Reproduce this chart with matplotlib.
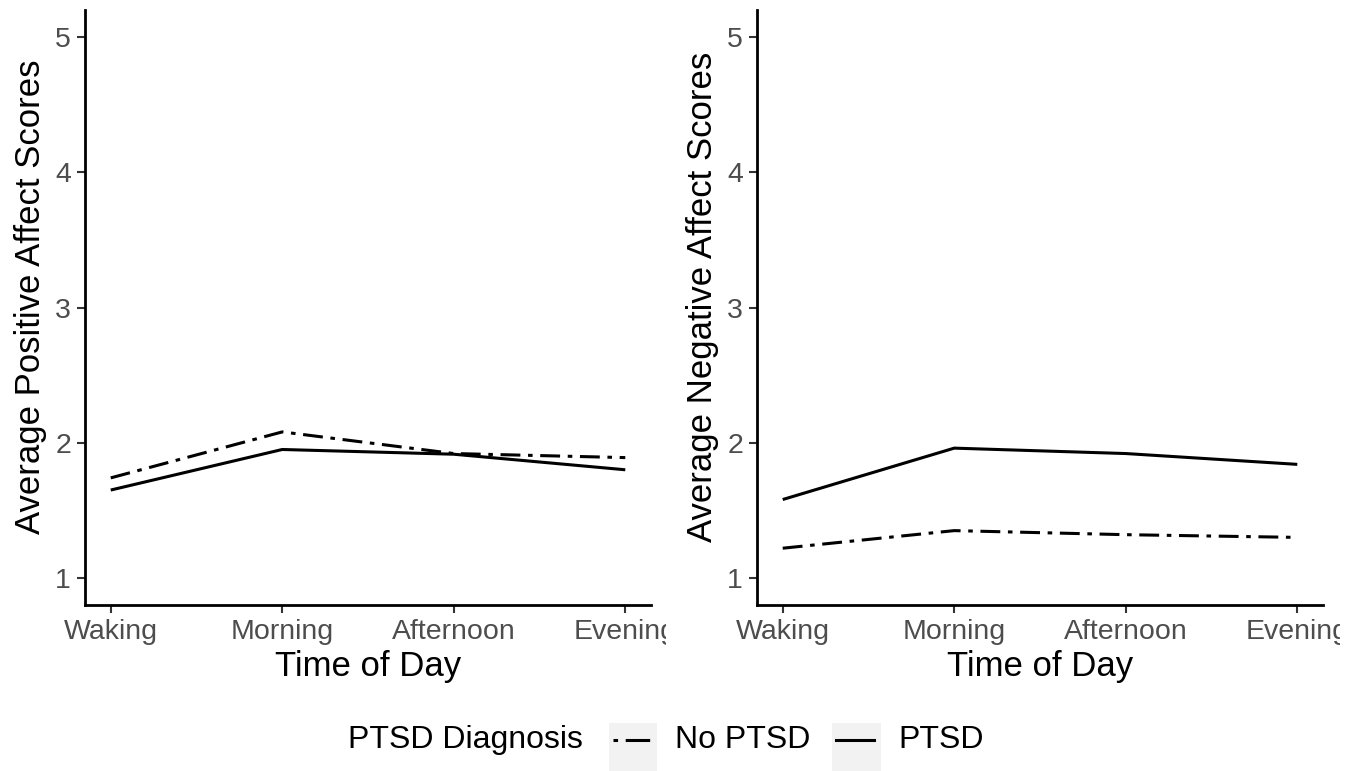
import matplotlib
matplotlib.use('Agg')
import matplotlib.pyplot as plt
from matplotlib.lines import Line2D
from matplotlib.patches import Rectangle
from matplotlib.transforms import Bbox, TransformedBbox

plt.rcParams['font.family'] = ['Liberation Sans', 'DejaVu Sans']

times = ['Waking', 'Morning', 'Afternoon', 'Evening']
groups = ['No PTSD', 'PTSD']

# positive affect
pos_no_ptsd = [1.74, 2.08, 1.92, 1.89]
pos_ptsd = [1.65, 1.95, 1.915, 1.80]

# negative affect
neg_no_ptsd = [1.22, 1.35, 1.32, 1.30]
neg_ptsd = [1.58, 1.96, 1.92, 1.84]

yticks = [1, 2, 3, 4, 5]
dotdash = (6.5, 2.5, 1.5, 2.5)
dotdash_key = (1.5, 2.5, 8.0, 2.5)

W, H = 1360, 771
fig = plt.figure(figsize=(W / 100, H / 100), dpi=100)


def px_box(x0, y0, x1, y1):
    # pixel box (top-left origin) -> figure fraction rect
    return [x0 / W, 1 - y1 / H, (x1 - x0) / W, (y1 - y0) / H]


def style_panel(ax, ylabel, clip_right):
    ax.set_xlim(-0.15, 3.15)
    ax.set_ylim(0.8, 5.2)
    ax.set_yticks(yticks)
    ax.set_xticks(range(len(times)))
    ax.set_xticklabels(times)
    for s in ['top', 'right']:
        ax.spines[s].set_visible(False)
    for s in ['left', 'bottom']:
        ax.spines[s].set_linewidth(2.0)
        ax.spines[s].set_color('black')
    ax.tick_params(length=6, width=1.5, color='#333333', labelsize=20.5,
                   labelcolor='#4D4D4D', pad=4)
    ax.set_xlabel('Time of Day', fontsize=25, labelpad=4)
    ax.set_ylabel(ylabel, fontsize=25, labelpad=6)
    ax.yaxis.set_label_coords(-0.068, 0.518)
    # cut the last tick label the way the original crop does
    box = TransformedBbox(Bbox([[0, 0], [clip_right / W, 1]]), fig.transFigure)
    for lab in ax.get_xticklabels():
        lab.set_clip_on(True)
        lab.set_clip_box(box)


ax1 = fig.add_axes(px_box(85, 10, 651, 605))
ax2 = fig.add_axes(px_box(757, 10, 1323, 605))

x = list(range(len(times)))
for ax, no_vals, yes_vals in [(ax1, pos_no_ptsd, pos_ptsd), (ax2, neg_no_ptsd, neg_ptsd)]:
    ax.plot(x, no_vals, color='black', lw=2.2, dashes=dotdash, dash_capstyle='butt')
    ax.plot(x, yes_vals, color='black', lw=2.2, solid_capstyle='butt')

style_panel(ax1, 'Average Positive Affect Scores', 666)
style_panel(ax2, 'Average Negative Affect Scores', 1340)

# legend along the bottom
ly = 1 - 740 / H
fig.text(348 / W, ly, 'PTSD Diagnosis', fontsize=23, va='center', ha='left')
keys = [(609, 657, dotdash_key, 'No PTSD', 675), (832, 881, None, 'PTSD', 898)]
for x0, x1, dash, lab, tx in keys:
    fig.add_artist(Rectangle((x0 / W, 0), (x1 - x0) / W, 48 / H,
                             transform=fig.transFigure, facecolor='#F2F2F2',
                             edgecolor='none'))
    ln = Line2D([(x0 + 4) / W, (x1 - 7) / W], [ly, ly], transform=fig.transFigure,
                color='black', lw=2.2)
    if dash is not None:
        ln.set_dashes(dash)
        ln.set_dash_capstyle('butt')
    fig.add_artist(ln)
    fig.text(tx / W, ly, lab, fontsize=23, va='center', ha='left')

plt.savefig('out.png', dpi=100)
